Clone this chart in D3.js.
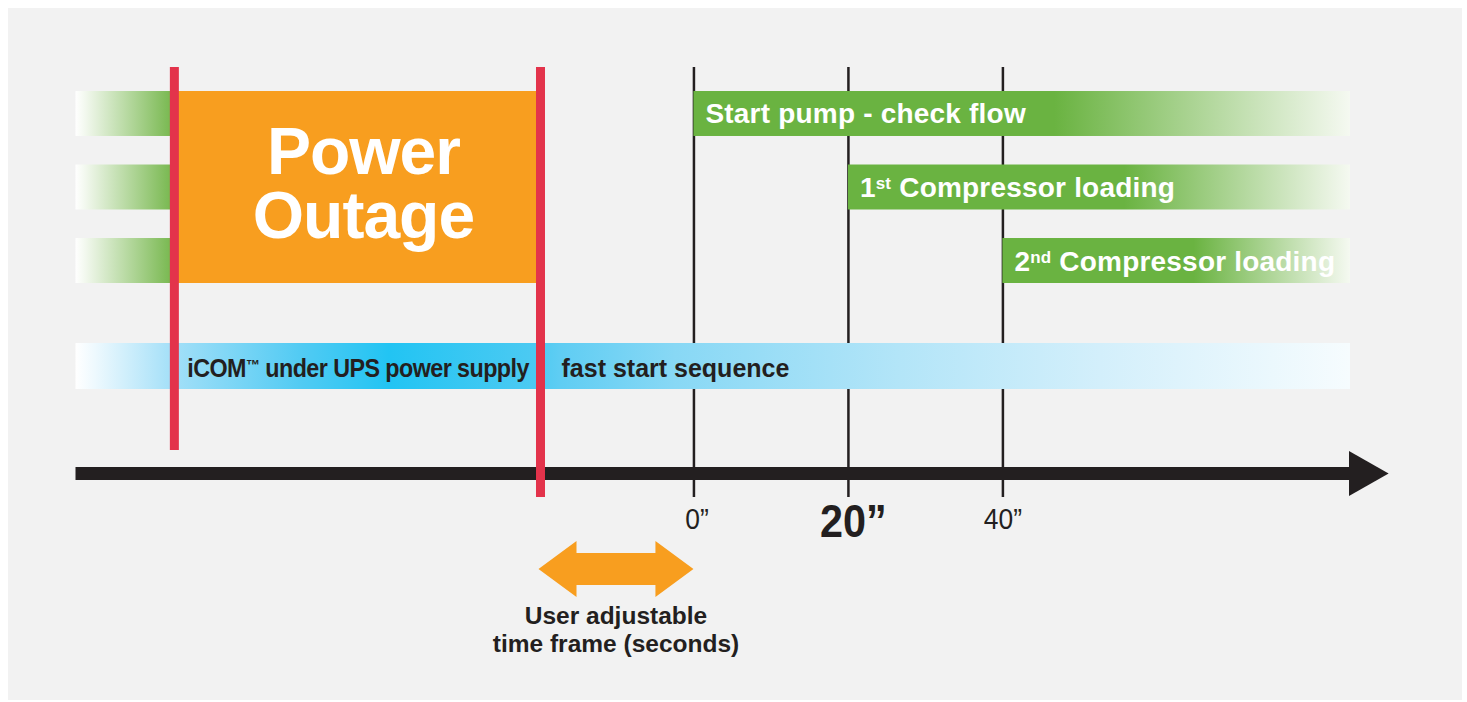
<!DOCTYPE html>
<html>
<head>
<meta charset="utf-8">
<script src="https://cdn.jsdelivr.net/npm/d3@7"></script>
<style>
  body { margin: 0; background: #fff; }
  svg { display: block; }
</style>
</head>
<body>
<div id="chart"></div>
<script>
// timeline in seconds, 0 = start of the fast start sequence
const timeDomain = [-80, 85];
const arrowEnd = 90;
const outageMarks = [-67.2, -19.8];

const rows = ['pump', 'comp1', 'comp2'];
const stepStarts = [0, 20, 40];
// label segments: [text, isSuperscript]
const stepLabels = [
  [['Start pump - check flow', false]],
  [['1', false], ['st', true], [' Compressor loading', false]],
  [['2', false], ['nd', true], [' Compressor loading', false]],
];

const tickValues = [0, 20, 40];
const tickLabels = ['0”', '20”', '40”'];
const highlightTick = 20;

const outageLines = ['Power', 'Outage'];
const upsLabel = [['iCOM', false], ['™', true], [' under UPS power supply', false]];
const fastLabel = 'fast start sequence';
const noteLines = ['User adjustable', 'time frame (seconds)'];

const width = 1467;
const height = 702;

const orange = '#f89e1f';
const red = '#e3334b';
const green = '#6ab341';
const dark = '#231f20';
const sans = '"Liberation Sans", Arial, sans-serif';

const x = d3.scaleLinear()
  .domain(timeDomain)
  .range([75.5, 1350]);

const y = d3.scaleBand()
  .domain(rows)
  .range([91, 283])
  .paddingInner(0.388);

const svg = d3.select('#chart')
  .append('svg')
  .attr('width', width)
  .attr('height', height);

const defs = svg.append('defs');

function gradient(id, stops, x1, x2) {
  const g = defs.append('linearGradient')
    .attr('id', id)
    .attr('gradientUnits', x1 === undefined ? 'objectBoundingBox' : 'userSpaceOnUse')
    .attr('x1', x1 === undefined ? 0 : x1)
    .attr('x2', x2 === undefined ? 1 : x2)
    .attr('y1', 0)
    .attr('y2', 0);
  g.selectAll('stop')
    .data(stops)
    .enter()
    .append('stop')
    .attr('offset', d => d[0])
    .attr('stop-color', d => d[1]);
}

gradient('fadeIn', [[0, '#ffffff'], [0.1, '#f2f8ee'], [1, '#74b64a']]);
gradient('fadeOut', [[0, green], [0.55, green], [1, '#f5f9f1']]);
gradient('blue', [
  [0, '#ffffff'], [0.015, '#eef9fe'], [0.074, '#a5e0f8'], [0.176, '#52cbf3'],
  [0.246, '#22c4f3'], [0.36, '#4ccaf2'], [0.38, '#5fcdf3'], [0.47, '#88d8f5'],
  [0.647, '#b3e5f8'], [0.804, '#d3effb'], [1, '#f6fcfe'],
], x(timeDomain[0]), x(timeDomain[1]));

// squeeze a text horizontally (no condensed face installed)
function condense(text, factor) {
  text.each(function () {
    const t = d3.select(this);
    const tx = +t.attr('x') || 0;
    const ty = +t.attr('y') || 0;
    t.attr('x', 0).attr('y', 0)
      .attr('transform', `translate(${tx},${ty}) scale(${factor},1)`);
  });
}

// panel
svg.append('rect')
  .attr('x', 8)
  .attr('y', 8)
  .attr('width', 1454)
  .attr('height', 692)
  .attr('fill', '#f2f2f2');

// second marks: long ticks up from the baseline
const axis = svg.append('g')
  .attr('transform', 'translate(0,497)')
  .call(d3.axisBottom(x)
    .tickValues(tickValues)
    .tickSizeInner(-430)
    .tickSizeOuter(0)
    .tickFormat((d, i) => tickLabels[i]));

axis.select('.domain').remove();
axis.selectAll('.tick line')
  .attr('stroke', dark)
  .attr('stroke-width', 2.5);
axis.selectAll('.tick text')
  .attr('fill', dark)
  .attr('dy', 0)
  .attr('x', d => (d === 0 ? 3 : (d === highlightTick ? 5 : 0)))
  .attr('y', d => (d === highlightTick ? 40 : 32))
  .style('font-family', sans)
  .style('font-size', d => (d === highlightTick ? '47px' : '30px'))
  .style('font-weight', d => (d === highlightTick ? 'bold' : 'normal'))
  .call(condense, 0.88);

// green stubs on the left
svg.append('g')
  .selectAll('rect')
  .data(rows)
  .enter()
  .append('rect')
  .attr('x', x(timeDomain[0]))
  .attr('y', d => y(d))
  .attr('width', x(outageMarks[0]) - x(timeDomain[0]))
  .attr('height', y.bandwidth())
  .attr('fill', 'url(#fadeIn)');

// outage block
svg.append('rect')
  .attr('x', x(outageMarks[0]))
  .attr('y', y(rows[0]))
  .attr('width', x(outageMarks[1]) - x(outageMarks[0]))
  .attr('height', y(rows[2]) + y.bandwidth() - y(rows[0]))
  .attr('fill', orange);

svg.append('g')
  .selectAll('text')
  .data(outageLines)
  .enter()
  .append('text')
  .attr('x', (x(outageMarks[0]) + x(outageMarks[1])) / 2 + 6)
  .attr('y', (d, i) => 174 + i * 64)
  .attr('text-anchor', 'middle')
  .attr('fill', '#fff')
  .style('font-family', sans)
  .style('font-size', '66px')
  .style('font-weight', 'bold')
  .style('letter-spacing', '-1px')
  .text(d => d);

// sequence steps
const steps = svg.append('g')
  .selectAll('g')
  .data(rows)
  .enter()
  .append('g');

steps.append('rect')
  .attr('x', (d, i) => x(stepStarts[i]))
  .attr('y', d => y(d))
  .attr('width', (d, i) => x(timeDomain[1]) - x(stepStarts[i]))
  .attr('height', y.bandwidth())
  .attr('fill', 'url(#fadeOut)');

function addSegments(text, segments, size) {
  text.selectAll('tspan')
    .data(segments)
    .enter()
    .append('tspan')
    .attr('baseline-shift', d => (d[1] ? '45%' : null))
    .style('font-size', d => (d[1] ? `${Math.round(size * 0.6)}px` : null))
    .text(d => d[0]);
}

steps.append('text')
  .attr('x', (d, i) => x(stepStarts[i]) + 12)
  .attr('y', d => y(d) + y.bandwidth() / 2 + 10)
  .attr('fill', '#fff')
  .style('font-family', sans)
  .style('font-size', '28px')
  .style('font-weight', 'bold')
  .style('letter-spacing', '0.2px')
  .each(function (d, i) { addSegments(d3.select(this), stepLabels[i], 28); });

// controller band
svg.append('rect')
  .attr('x', x(timeDomain[0]))
  .attr('y', 343)
  .attr('width', x(timeDomain[1]) - x(timeDomain[0]))
  .attr('height', 46)
  .attr('fill', 'url(#blue)');

svg.append('text')
  .attr('x', x(outageMarks[0]) + 13)
  .attr('y', 377)
  .attr('fill', dark)
  .style('font-family', sans)
  .style('font-size', '25px')
  .style('font-weight', 'bold')
  .style('letter-spacing', '-0.6px')
  .call(addSegments, upsLabel, 25)
  .call(condense, 0.933);

svg.append('text')
  .attr('x', x(outageMarks[1]) + 21)
  .attr('y', 377)
  .attr('fill', dark)
  .style('font-family', sans)
  .style('font-size', '25px')
  .style('font-weight', 'bold')
  .text(fastLabel)
  .call(condense, 1.0);

// time axis arrow
const axisY = 473.5;
svg.append('line')
  .attr('x1', x(timeDomain[0]))
  .attr('x2', x(timeDomain[1]))
  .attr('y1', axisY)
  .attr('y2', axisY)
  .attr('stroke', dark)
  .attr('stroke-width', 13);

svg.append('path')
  .attr('d', d3.line()([
    [x(timeDomain[1]) - 1, axisY - 22.5],
    [x(arrowEnd), axisY],
    [x(timeDomain[1]) - 1, axisY + 22.5],
  ]))
  .attr('fill', dark);

// outage start / end marks
svg.append('g')
  .selectAll('line')
  .data(outageMarks)
  .enter()
  .append('line')
  .attr('x1', d => x(d))
  .attr('x2', d => x(d))
  .attr('y1', 67)
  .attr('y2', (d, i) => (i === 0 ? 450 : 497))
  .attr('stroke', red)
  .attr('stroke-width', 9);

// adjustable window arrow
const ax0 = x(outageMarks[1]) - 2;
const ax1 = x(0);
const ay = 569;
svg.append('path')
  .attr('d', d3.line()([
    [ax0, ay], [ax0 + 38, ay - 28], [ax0 + 38, ay - 16],
    [ax1 - 38, ay - 16], [ax1 - 38, ay - 28], [ax1, ay],
    [ax1 - 38, ay + 28], [ax1 - 38, ay + 16],
    [ax0 + 38, ay + 16], [ax0 + 38, ay + 28],
  ]) + 'Z')
  .attr('fill', orange);

svg.append('g')
  .selectAll('text')
  .data(noteLines)
  .enter()
  .append('text')
  .attr('x', (ax0 + ax1) / 2)
  .attr('y', (d, i) => 624 + i * 28)
  .attr('text-anchor', 'middle')
  .attr('fill', dark)
  .style('font-family', sans)
  .style('font-size', '24.5px')
  .style('font-weight', 'bold')
  .text(d => d);
</script>
</body>
</html>
